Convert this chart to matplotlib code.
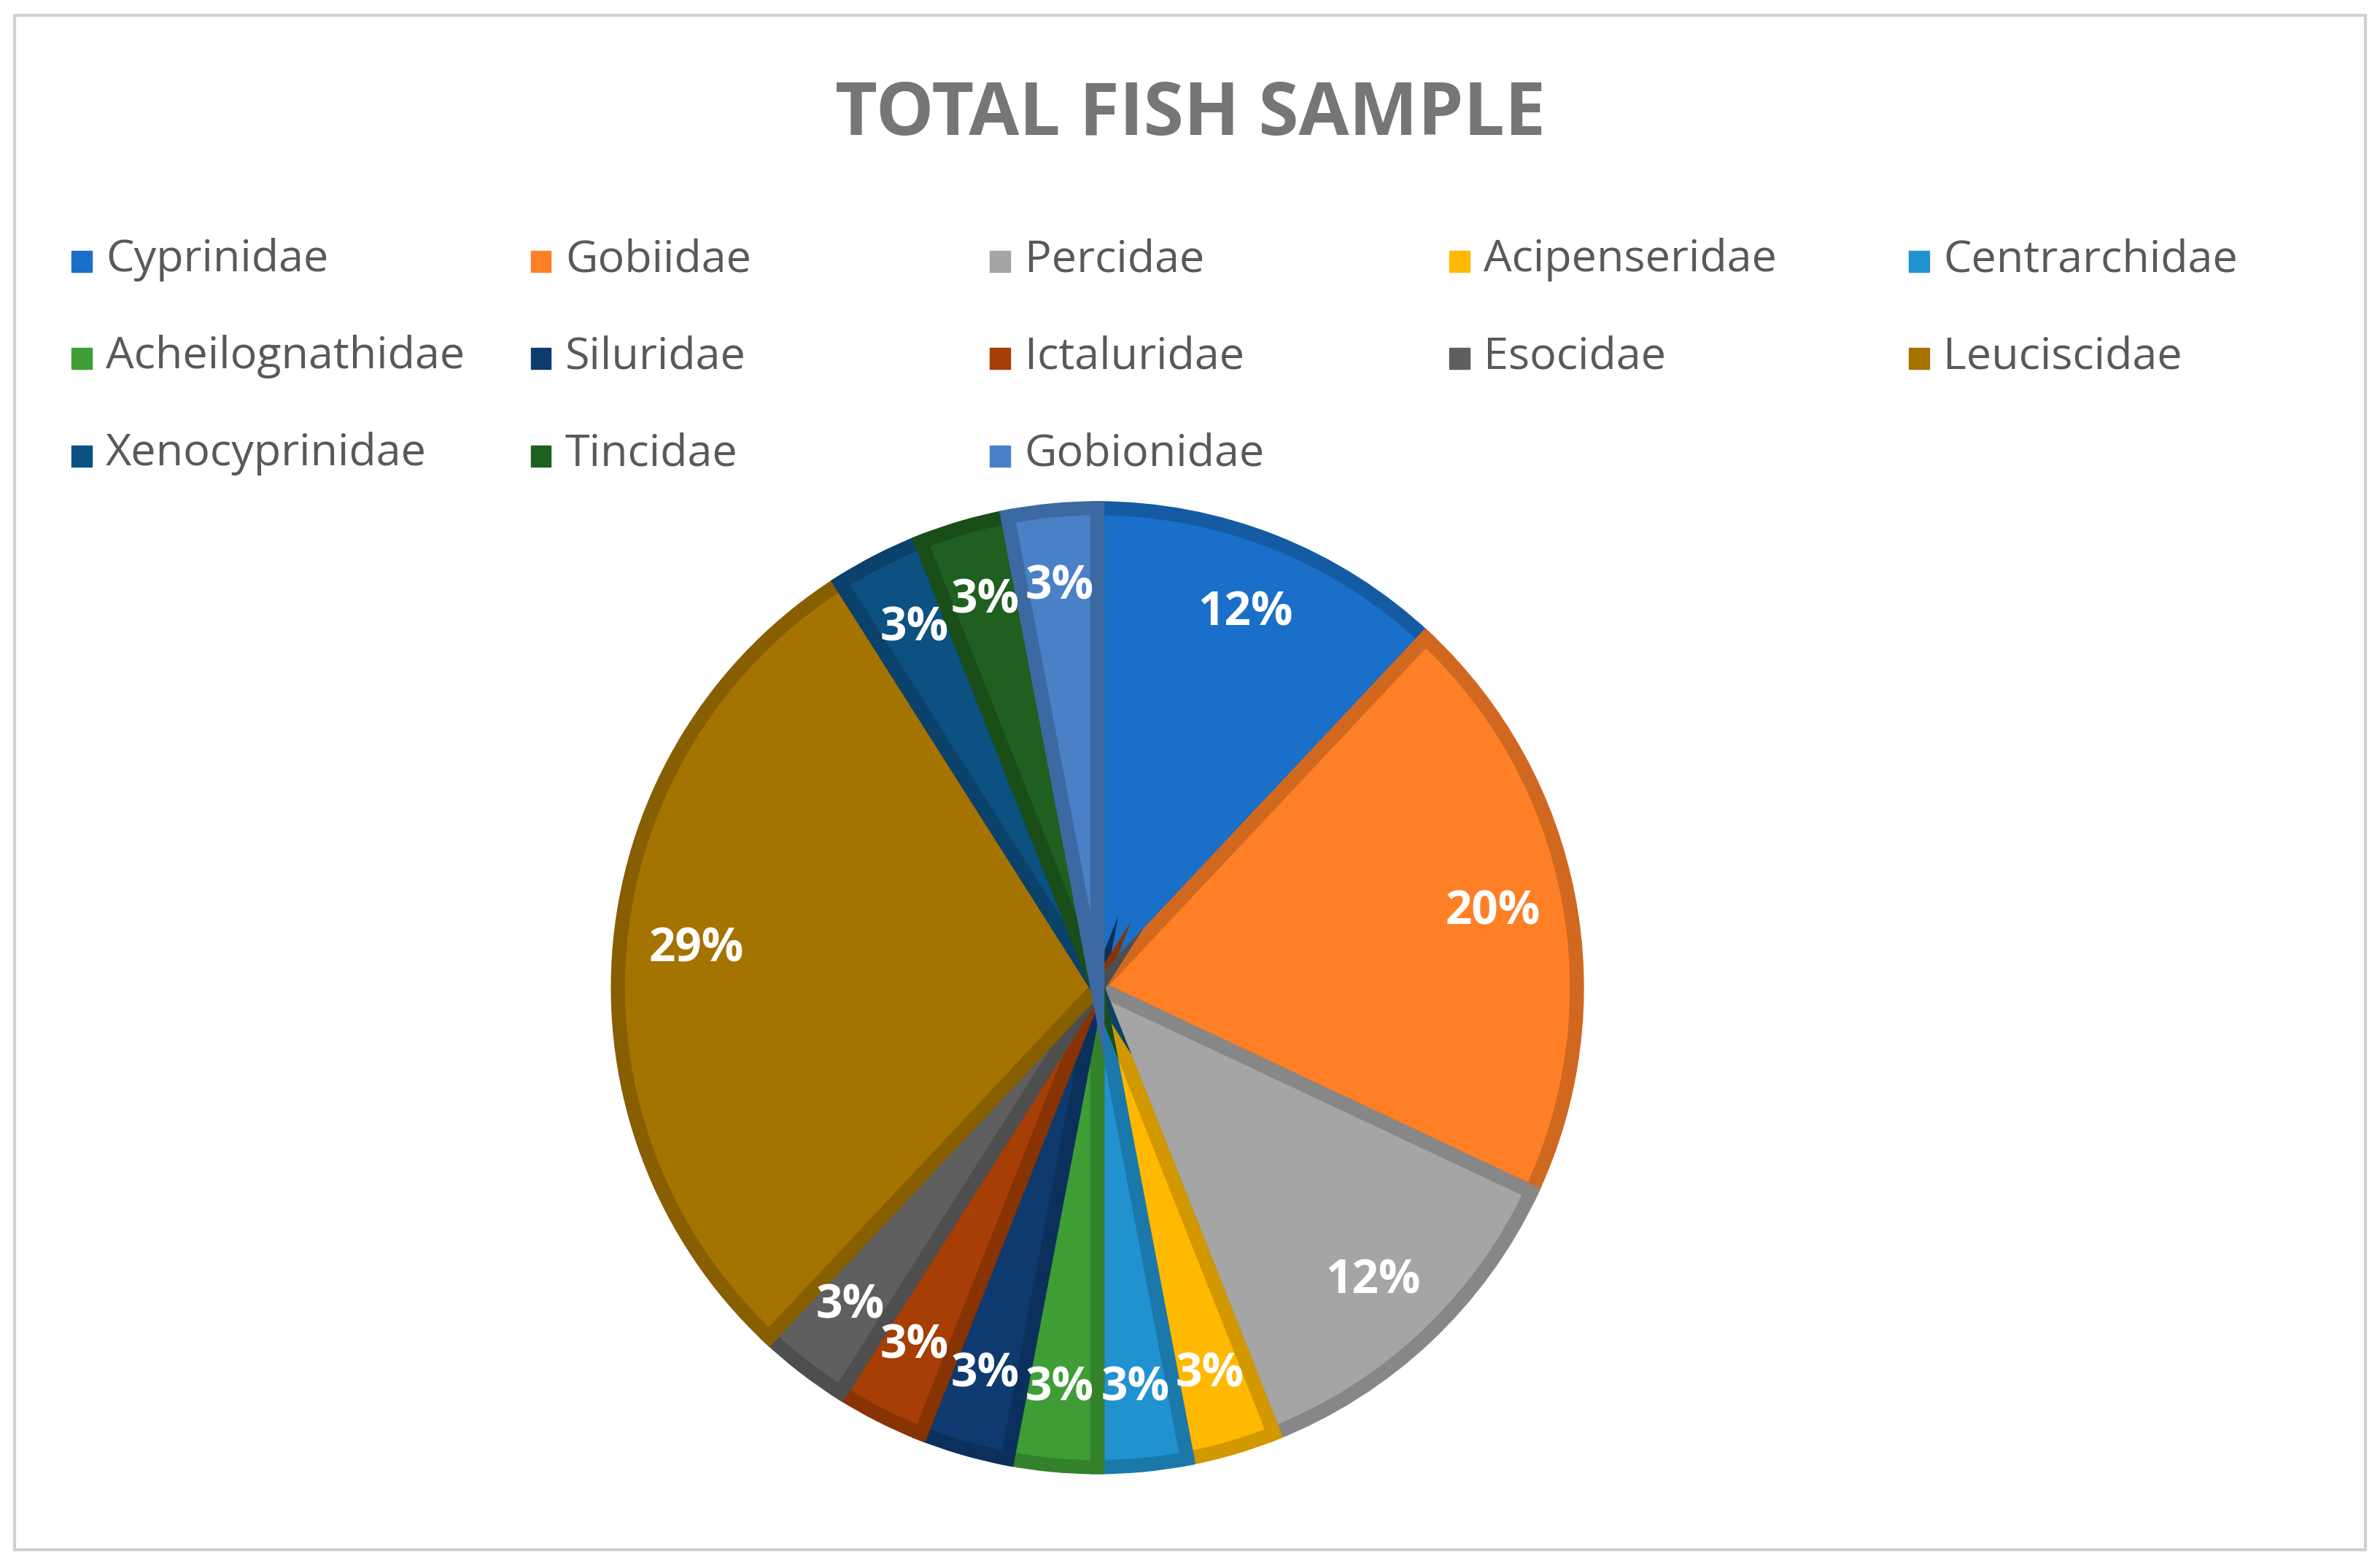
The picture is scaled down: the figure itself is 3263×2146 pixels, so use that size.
import matplotlib.pyplot as plt
import matplotlib.colors as mcolors
from matplotlib.patches import Rectangle

families = ['Cyprinidae', 'Gobiidae', 'Percidae', 'Acipenseridae', 'Centrarchidae',
            'Acheilognathidae', 'Siluridae', 'Ictaluridae', 'Esocidae', 'Leuciscidae',
            'Xenocyprinidae', 'Tincidae', 'Gobionidae']
percents = [12, 20, 12, 3, 3, 3, 3, 3, 3, 29, 3, 3, 3]
colors = ['#1A6FC8', '#FF7F27', '#A5A5A5', '#FFB900', '#2192D0', '#3E9E35', '#0E3A6F',
          '#A63E05', '#5F5F5F', '#A57300', '#0C5182', '#1F5F1F', '#4A80C6']


def darker(c, f=0.82):
    r, g, b = mcolors.to_rgb(c)
    return (r * f, g * f, b * f)


plt.rcParams['font.family'] = ['Open Sans', 'DejaVu Sans']
fig = plt.figure(figsize=(32.63, 21.46), dpi=100)

# frame around the chart
fig.add_artist(Rectangle((0.006, 0.01), 0.988, 0.98, transform=fig.transFigure,
                         fill=False, edgecolor='#D0D0D0', linewidth=3))

fig.text(0.5, 0.926, 'TOTAL FISH SAMPLE', ha='center', va='center',
         fontsize=72, fontweight='bold', color='#767676')

# legend drawn by hand, 5 columns
col_x = [0.030, 0.223, 0.416, 0.609, 0.802]
row_y = [0.834, 0.772, 0.710]
for i, name in enumerate(families):
    x = col_x[i % 5]
    y = row_y[i // 5]
    fig.add_artist(Rectangle((x, y - 0.008), 0.0085, 0.0135, transform=fig.transFigure,
                             color=colors[i]))
    fig.text(x + 0.0145, y, name, ha='left', va='center', fontsize=44, color='#595959')

ax = fig.add_axes([0.2556, 0.0564, 0.411, 0.625])
wedges, texts = ax.pie(percents, colors=colors, startangle=90, counterclock=False,
                       wedgeprops=dict(linewidth=10,
                                       edgecolor='white'))
for w, c in zip(wedges, colors):
    w.set_edgecolor(darker(c))
    w.set_linewidth(14)
    w.set_joinstyle('miter')

import numpy as np
total = sum(percents)
ang = 90.0
for p in percents:
    mid = np.deg2rad(ang - 360 * p / total / 2)
    ang -= 360 * p / total
    ax.text(0.84 * np.cos(mid), 0.84 * np.sin(mid), f'{p}%', ha='center', va='center',
            fontsize=46, fontweight='bold', color='white')
ax.set_aspect('equal')
ax.set_xlim(-1.02, 1.02)
ax.set_ylim(-1.02, 1.02)

fig.savefig('out.png', dpi=100)
